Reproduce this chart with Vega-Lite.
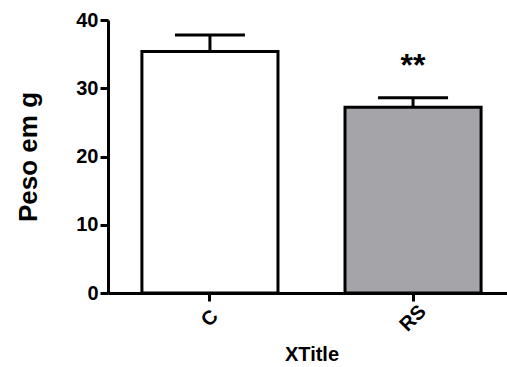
{
  "$schema": "https://vega.github.io/schema/vega-lite/v6.json",
  "width": 399,
  "height": 273,
  "autosize": {"type": "none"},
  "padding": {"left": 108, "top": 20, "right": 0, "bottom": 74},
  "background": "white",
  "config": {"view": {"stroke": null}, "font": "Liberation Sans"},
  "data": {"values": [
    {"group": "C", "mean": 35.4, "upper": 37.8, "star": ""},
    {"group": "RS", "mean": 27.2, "upper": 28.6, "star": "**"}
  ]},
  "encoding": {
    "x": {
      "field": "group", "type": "nominal", "sort": null,
      "scale": {"range": [0, 407], "paddingInner": 0.33, "paddingOuter": 0.167},
      "axis": {
        "title": "XTitle", "titleFontSize": 20, "titleFontWeight": "bold", "titleColor": "black", "titlePadding": 10,
        "labelAngle": -45, "labelAlign": "center", "labelBaseline": "middle", "labelPadding": 17,
        "labelFontSize": 20, "labelFontWeight": "bold", "labelColor": "black",
        "domainColor": "black", "domainWidth": 3, "tickColor": "black", "tickWidth": 3, "tickSize": 8,
        "grid": false
      }
    }
  },
  "layer": [
    {
      "mark": {"type": "bar", "stroke": "black", "strokeWidth": 3},
      "encoding": {
        "y": {
          "field": "mean", "type": "quantitative",
          "scale": {"domain": [0, 40], "nice": false},
          "axis": {
            "title": "Peso em g", "titleFontSize": 26, "titleFontWeight": "bold", "titleColor": "black", "titlePadding": 34,
            "values": [0, 10, 20, 30, 40], "labelFontSize": 20, "labelFontWeight": "bold", "labelColor": "black", "labelPadding": 2,
            "domainColor": "black", "domainWidth": 3, "tickColor": "black", "tickWidth": 3, "tickSize": 8,
            "grid": false
          }
        },
        "color": {"field": "group", "type": "nominal", "scale": {"domain": ["C", "RS"], "range": ["#FFFFFF", "#A5A4A8"]}, "legend": null}
      }
    },
    {
      "mark": {"type": "rule", "color": "black", "strokeWidth": 3, "opacity": 1},
      "encoding": {
        "y": {"field": "mean", "type": "quantitative"},
        "y2": {"field": "upper"}
      }
    },
    {
      "mark": {"type": "tick", "color": "black", "thickness": 3, "size": 70, "orient": "horizontal", "opacity": 1},
      "encoding": {
        "y": {"field": "upper", "type": "quantitative"}
      }
    },
    {
      "mark": {"type": "text", "fontSize": 32, "fontWeight": "bold", "color": "black", "baseline": "middle", "dy": -32},
      "encoding": {
        "y": {"field": "upper", "type": "quantitative"},
        "text": {"field": "star"}
      }
    }
  ]
}
